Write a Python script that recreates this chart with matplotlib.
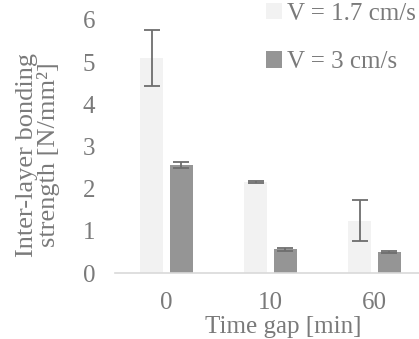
import numpy as np
import matplotlib.pyplot as plt

categories = ["0", "10", "60"]
v17 = [5.10, 2.15, 1.24]
v17_err = [0.66, 0.02, 0.49]
v3 = [2.56, 0.56, 0.49]
v3_err = [0.07, 0.03, 0.02]

plt.rcParams['font.family'] = ['Liberation Serif', 'DejaVu Serif']
txt = '#7a7a7a'
fs = 18

fig = plt.figure(figsize=(4.19, 3.39), dpi=100)
ax = fig.add_axes([114.5/419, 1 - 273/339, 312/419, 253/339])

x = np.arange(len(categories))
w = 0.22
off = 0.144
ekw = dict(ecolor='#6e6e6e', capsize=6, elinewidth=1.3, capthick=1.3)
ax.bar(x - off, v17, w, color='#f2f2f2', label='V = 1.7 cm/s', yerr=v17_err, error_kw=ekw)
ax.bar(x + off, v3, w, color='#959595', label='V = 3 cm/s', yerr=v3_err, error_kw=ekw)

ax.set_xlim(-0.5, 2.5)
ax.set_ylim(0, 6)
ax.set_yticks(range(0, 7))
ax.set_xticks(x)
ax.set_xticklabels(categories)
ax.tick_params(axis='both', length=0, labelsize=fs, labelcolor=txt)
ax.tick_params(axis='y', pad=14)
ax.tick_params(axis='x', pad=14)
for s in ['top', 'right', 'left']:
    ax.spines[s].set_visible(False)
ax.spines['bottom'].set_color('#d9d9d9')
ax.spines['bottom'].set_linewidth(1.2)

fig.text(38/419, 1 - 155/339, "Inter-layer bonding\nstrength [N/mm²]", fontsize=19, color=txt,
         rotation=90, ha='center', va='center', linespacing=0.9, multialignment='center')
fig.text(283/419, 1 - 333/339, "Time gap [min]", fontsize=fs, color=txt,
         ha='center', va='baseline')

ax.legend(loc='upper left', bbox_to_anchor=(263/419, 1.0), bbox_transform=fig.transFigure,
          frameon=False, fontsize=fs, labelcolor=txt, handlelength=0.65, handleheight=0.65,
          handletextpad=0.2, labelspacing=1.05, borderaxespad=0.0, borderpad=0.1)

fig.savefig("out.png", dpi=100)
